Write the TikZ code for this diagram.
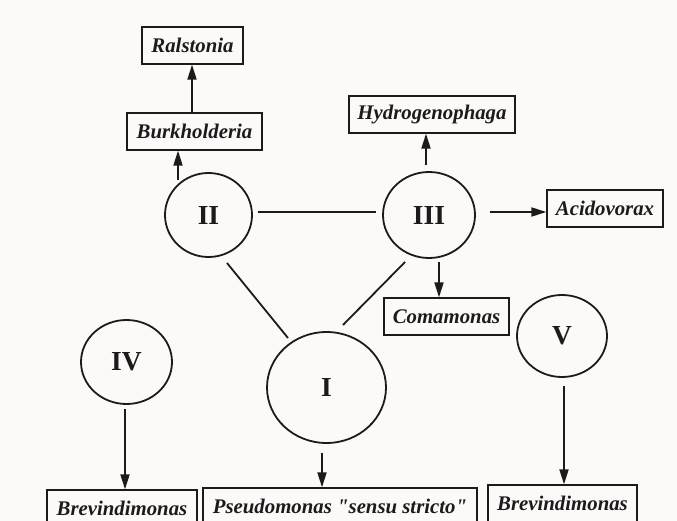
\documentclass[tikz,border=0pt]{standalone}
\usepackage{fontspec}
\setmainfont{Liberation Serif}
\newfontfamily\labfont{Liberation Serif}
\usetikzlibrary{shapes.geometric,arrows.meta,calc}
\definecolor{ink}{RGB}{28,26,26}
\definecolor{paper}{RGB}{252,250,249}
\begin{document}
\begin{tikzpicture}[x=1pt,y=-1pt,
  genus/.style={draw=ink, line width=1.3pt, minimum height=37pt, inner sep=0pt,
    font=\labfont\fontsize{20.8}{24}\selectfont\bfseries\itshape, text=ink},
  group/.style={ellipse, draw=ink, line width=1.8pt, inner sep=0pt,
    font=\labfont\fontsize{27.5}{30}\selectfont\bfseries, text=ink},
  link/.style={draw=ink, line width=1.8pt},
  arr/.style={link, -{Triangle[length=15pt,width=9pt]}}]
\fill[paper] (0,0) rectangle (677,521);
\useasboundingbox (0,0) rectangle (677,521);

% genus boxes
\node[genus, minimum width=101pt] (Ral) at (192.5,45.5) {Ralstonia};
\node[genus, minimum width=135pt] (Bur) at (194.5,131.5) {Burkholderia};
\node[genus, minimum width=166pt] (Hyd) at (432,114.5) {Hydrogenophaga};
\node[genus, minimum width=116pt] (Aci) at (605,208.5) {Acidovorax};
\node[genus, minimum width=125pt] (Com) at (446.5,316.5) {Comamonas};
\node[genus, minimum width=150pt] (BrL) at (122,508.5) {Brevindimonas};
\node[genus, minimum width=274pt] (Pse) at (340,506.5) {Pseudomonas "sensu stricto"};
\node[genus, minimum width=149pt] (BrR) at (562.5,503.5) {Brevindimonas};

% rRNA groups
\node[group, minimum width=87pt, minimum height=84pt] (II) at (208.5,215) {II};
\node[group, minimum width=92pt, minimum height=86pt] (III) at (429,215) {III};
\node[group, minimum width=119pt, minimum height=111pt] (I) at (326.5,387.5) {I};
\node[group, minimum width=91pt, minimum height=84pt] (IV) at (126.5,362) {IV};
\node[group, minimum width=90pt, minimum height=82pt] (V) at (562,336) {V};

% links between groups
\draw[link] ($(II.east)+(5,-3)$) -- ($(III.west)+(-6,-3)$);
\draw[link] ($(II)+(18.5,48)$) -- ($(I)+(-38.5,-49.5)$);
\draw[link] ($(III)+(-24,47)$) -- ($(I)+(16.5,-62.5)$);

% arrows
\coordinate (s2) at ($(II)+(-30.5,-35)$);
\draw[arr] (s2) -- (s2 |- Bur.south);
\coordinate (sb) at ($(Bur.north)+(-2.5,0)$);
\draw[arr] (sb) -- (sb |- Ral.south);
\coordinate (s3h) at ($(III)+(-3,-50)$);
\draw[arr] (s3h) -- (s3h |- Hyd.south);
\coordinate (s3a) at ($(III.east)+(14,-3)$);
\draw[arr] (s3a) -- (s3a -| Aci.west);
\coordinate (s3c) at ($(III)+(10,47)$);
\draw[arr] (s3c) -- (s3c |- Com.north);
\coordinate (s1) at ($(I.south)+(-4.5,9)$);
\draw[arr] (s1) -- (s1 |- Pse.north);
\coordinate (s4) at ($(IV.south)+(-1.5,4)$);
\draw[arr] (s4) -- (s4 |- BrL.north);
\coordinate (s5) at ($(V.south)+(2,8)$);
\draw[arr] (s5) -- (s5 |- BrR.north);
\end{tikzpicture}
\end{document}
